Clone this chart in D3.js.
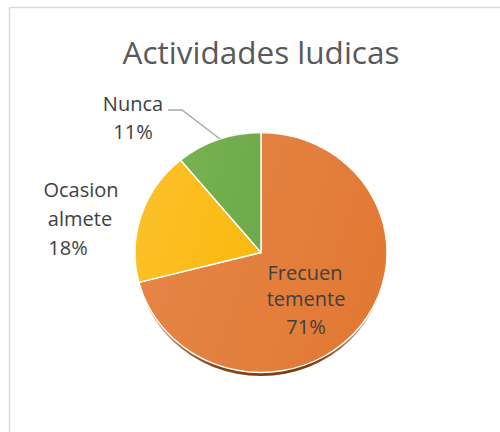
<!DOCTYPE html>
<html>
<head>
<meta charset="utf-8">
<script src="https://cdn.jsdelivr.net/npm/d3@7"></script>
<style>
  html, body { margin: 0; padding: 0; background: #fff; }
  svg { display: block; }
  text { font-family: "Open Sans", "Noto Sans", sans-serif; fill: #404040; }
</style>
</head>
<body>
<svg id="chart" width="500" height="432"></svg>
<script>
// ---- data ----
const title = "Actividades ludicas";
const categories = ["Frecuentemente", "Ocasionalmente", "Nunca"];
const values = [71, 18, 11];
const percentLabels = ["71%", "18%", "11%"];
const labelLines = [["Frecuen", "temente"], ["Ocasion", "almete"], ["Nunca"]];
const colors = ["#E27A35", "#FABA12", "#6FAB4A"];
const colorsLight = ["#E6874A", "#FCC22C", "#77B153"];

// ---- layout ----
const W = 500, H = 432;
const cx = 261, cy = 252.5, R = 126, squash = 0.952;

const svg = d3.select("#chart");

// border
svg.append("rect")
  .attr("x", 9.5).attr("y", 7.5)
  .attr("width", 520).attr("height", 460)
  .attr("fill", "#fff")
  .attr("stroke", "#d9d9d9").attr("stroke-width", 1.5);

// title
svg.append("text")
  .attr("x", 261).attr("y", 64)
  .attr("text-anchor", "middle")
  .attr("font-size", 31.5)
  .style("fill", "#595959")
  .text(title);

const defs = svg.append("defs");
colors.forEach((c, i) => {
  const g = defs.append("linearGradient")
    .attr("id", "grad" + i)
    .attr("x1", "0%").attr("y1", "0%").attr("x2", "100%").attr("y2", "30%");
  g.append("stop").attr("offset", "0%").attr("stop-color", colorsLight[i]);
  g.append("stop").attr("offset", "100%").attr("stop-color", c);
});
const sg = defs.append("linearGradient").attr("id", "shadowGrad")
  .attr("x1", "0%").attr("y1", "0%").attr("x2", "100%").attr("y2", "0%");
sg.append("stop").attr("offset", "0%").attr("stop-color", "#d8b8a0");
sg.append("stop").attr("offset", "30%").attr("stop-color", "#8a4416");
sg.append("stop").attr("offset", "70%").attr("stop-color", "#7c3a10");
sg.append("stop").attr("offset", "100%").attr("stop-color", "#d8b8a0");

const pie = d3.pie().sort(null).value(d => d);
const arcs = pie(values);
const arc = d3.arc().innerRadius(0).outerRadius(R);

// 3D side / shadow
svg.append("g")
  .attr("transform", `translate(${cx},${cy + 5}) scale(1,${squash})`)
  .append("path")
  .attr("d", d3.arc().innerRadius(0).outerRadius(R - 1.5).startAngle(0).endAngle(2 * Math.PI)())
  .attr("fill", "url(#shadowGrad)");

const g = svg.append("g")
  .attr("transform", `translate(${cx},${cy}) scale(1,${squash})`);

g.selectAll("path.slice")
  .data(arcs)
  .join("path")
  .attr("class", "slice")
  .attr("d", arc)
  .attr("fill", (d, i) => `url(#grad${i})`)
  .attr("stroke", "#fff")
  .attr("stroke-width", 1.4)
  .attr("stroke-linejoin", "round");

// labels
const labelPos = [
  { lines: [[305, 280], [306, 306], [306, 334]] },
  { lines: [[81, 197], [80, 226], [68, 255]] },
  { lines: [[133, 111], [133, 139]] }
];
labelLines.forEach((lines, i) => {
  const all = lines.concat([percentLabels[i]]);
  all.forEach((t, j) => {
    const p = labelPos[i].lines[j];
    svg.append("text")
      .attr("x", p[0]).attr("y", p[1])
      .attr("text-anchor", "middle")
      .attr("font-size", 20)
      .text(t);
  });
});

// leader line for Nunca
svg.append("path")
  .attr("d", d3.line()([[168, 110], [182, 110], [220, 139]]))
  .attr("fill", "none")
  .attr("stroke", "#a6a6a6")
  .attr("stroke-width", 1.3);
</script>
</body>
</html>
